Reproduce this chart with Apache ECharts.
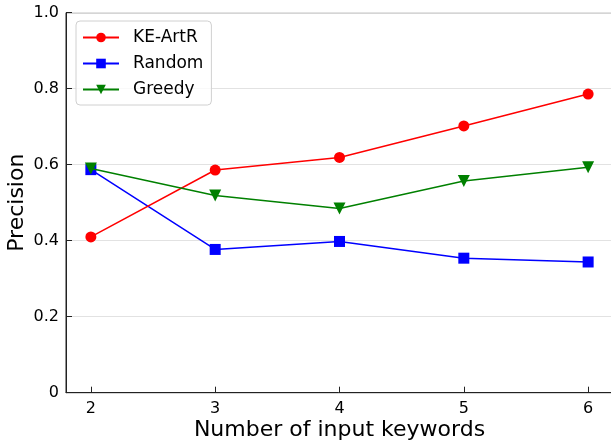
<!DOCTYPE html>
<html>
<head>
<meta charset="utf-8">
<script src="https://cdn.jsdelivr.net/npm/echarts@6/dist/echarts.min.js"></script>
<style>html,body{margin:0;padding:0;background:#fff;}#c{width:611px;height:445px;}</style>
</head>
<body>
<div id="c"></div>
<script>
const xValues = [2, 3, 4, 5, 6];
const keArtR = [0.410, 0.586, 0.619, 0.702, 0.786];
const randomSel = [0.587, 0.377, 0.398, 0.354, 0.344];
const greedy = [0.590, 0.519, 0.485, 0.557, 0.593];
const xTicks = [2, 3, 4, 5, 6];
const yTicks = [0, 0.2, 0.4, 0.6, 0.8, 1.0];

const FONT = 'DejaVu Sans';
const pairs = arr => xValues.map((x, i) => [x, arr[i]]);

const chart = echarts.init(document.getElementById('c'), null, {renderer: 'canvas'});
chart.setOption({
  animation: false,
  backgroundColor: '#fff',
  textStyle: {fontFamily: FONT},
  grid: {left: 66, right: -2, top: 12.7, bottom: 52.3, containLabel: false, outerBoundsMode: 'none',
    show: true, borderColor: '#222', borderWidth: 1, backgroundColor: 'transparent'},
  legend: {
    orient: 'vertical', left: 76, top: 21,
    padding: [8, 8, 7, 6],
    backgroundColor: 'rgba(255,255,255,0.8)',
    borderColor: '#d0d0d0', borderWidth: 1, borderRadius: 4,
    itemWidth: 36, itemHeight: 12, itemGap: 9,
    textStyle: {fontFamily: FONT, fontSize: 17, color: '#000', padding: [0, 0, 0, 9]},
    data: ['KE-ArtR', 'Random', 'Greedy']
  },
  xAxis: {
    type: 'value', min: 1.8, max: 6.2,
    name: 'Number of input keywords', nameLocation: 'middle', nameGap: 27, nameMoveOverlap: false,
    nameTextStyle: {fontFamily: FONT, fontSize: 22, color: '#000'},
    axisLine: {show: true, lineStyle: {color: '#222', width: 1}},
    axisTick: {show: true, inside: true, length: 6, lineStyle: {color: '#222'}, customValues: xTicks},
    axisLabel: {fontFamily: FONT, fontSize: 16, color: '#000', margin: 8, customValues: xTicks},
    splitLine: {show: false}
  },
  yAxis: {
    type: 'value', min: 0, max: 1, interval: 0.2,
    name: 'Precision', nameLocation: 'middle', nameGap: 38, nameMoveOverlap: false,
    nameTextStyle: {fontFamily: FONT, fontSize: 22, color: '#000'},
    axisLine: {show: true, lineStyle: {color: '#222', width: 1}},
    axisTick: {show: true, inside: true, length: 6, lineStyle: {color: '#222'}},
    axisLabel: {fontFamily: FONT, fontSize: 16, color: '#000', margin: 7,
      formatter: v => (Math.abs(v) < 1e-9 ? '0' : v.toFixed(1))},
    splitLine: {show: true, lineStyle: {color: '#e2e2e2', width: 1}}
  },
  series: [
    {name: 'KE-ArtR', type: 'line', data: pairs(keArtR), symbol: 'circle', symbolSize: 11,
      lineStyle: {color: '#ff0000', width: 1.5}, itemStyle: {color: '#ff0000'}, z: 3},
    {name: 'Random', type: 'line', data: pairs(randomSel), symbol: 'rect', symbolSize: 11,
      lineStyle: {color: '#0000ff', width: 1.5}, itemStyle: {color: '#0000ff'}, z: 2},
    {name: 'Greedy', type: 'line', data: pairs(greedy), symbol: 'triangle', symbolRotate: 180, symbolSize: 12,
      lineStyle: {color: '#008000', width: 1.5}, itemStyle: {color: '#008000'}, z: 4}
  ]
});
</script>
</body>
</html>
